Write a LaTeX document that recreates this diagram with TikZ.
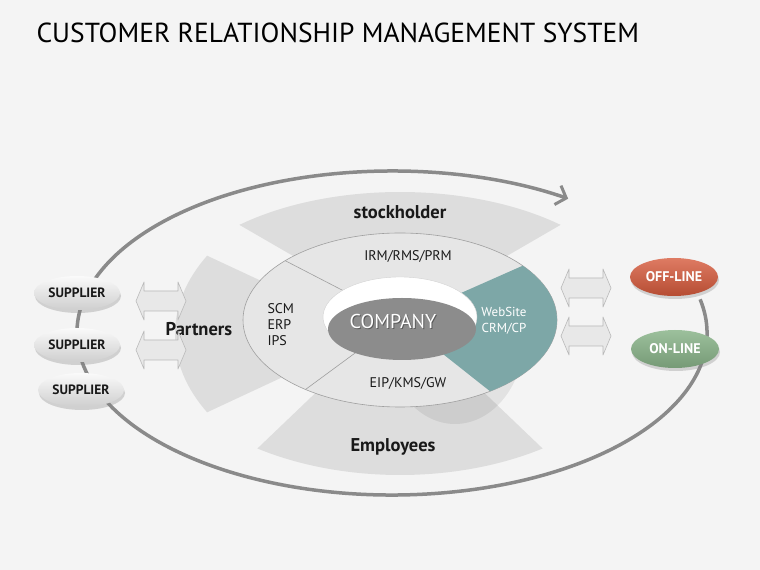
\documentclass[tikz,border=0pt]{standalone}
\usepackage{fontspec}
\setmainfont{PT Sans}
\usetikzlibrary{shapes.geometric,shadows,arrows.meta}

\definecolor{pagebg}{HTML}{F4F4F4}
\definecolor{bandgray}{HTML}{DDDDDD}
\definecolor{ringgray}{HTML}{E6E6E6}
\definecolor{crmteal}{HTML}{7DA7A7}
\definecolor{companygray}{HTML}{8C8C8C}
\definecolor{cyclegray}{HTML}{8A8A8A}
\definecolor{offred}{HTML}{D65A3C}
\definecolor{ongreen}{HTML}{8BB58B}

\tikzset{
    band/.style={fill=bandgray},
    ringline/.style={draw=gray!75, line width=0.6pt},
    bandlabel/.style={font=\bfseries\fontsize{18.5}{20}\selectfont, text=black!90},
    smalllabel/.style={font=\fontsize{14}{16}\selectfont, text=black!90},
    companytext/.style={font=\fontsize{20}{22}\selectfont, text=white},
    supplier/.style={ellipse, minimum width=86, minimum height=34, inner sep=0pt,
        top color=gray!4, bottom color=gray!38,
        drop shadow={shadow xshift=1pt, shadow yshift=-3pt, opacity=0.3},
        font=\bfseries\fontsize{13.5}{15}\selectfont, text=black!90},
    channel/.style={ellipse, minimum width=88, minimum height=38, inner sep=0pt,
        drop shadow={shadow xshift=1pt, shadow yshift=-3pt, opacity=0.3},
        font=\bfseries\fontsize{14}{16}\selectfont, text=white},
    blockarrow/.style={fill=gray!18, draw=gray!55, line width=0.6pt, line join=round},
}

\begin{document}
\begin{tikzpicture}[x=1pt, y=1pt]
    \useasboundingbox[fill=pagebg] (0,0) rectangle (760,570);

    % Title
    \node[anchor=base west, font=\fontsize{27.5}{30}\selectfont] (title) at (33,527)
        {CUSTOMER RELATIONSHIP MANAGEMENT SYSTEM};

    % Cycle round the whole system
    \coordinate (cyc) at (392,237);
    \draw[cyclegray, line width=3.5pt, -{Straight Barb[length=9pt, width=20pt, line width=3pt]}]
        (cyc) ++(12:315 and 162)
        arc[start angle=12, end angle=-304, x radius=315, y radius=162];

    % Bands behind the ring
    \coordinate (ringc) at (400,250);
    \begin{scope}[shift={(ringc)}]
        \fill[band] (132:100 and 55) -- (132:240 and 128)
            arc[start angle=132, end angle=48, x radius=240, y radius=128]
            -- (48:100 and 55) -- cycle;
        \fill[band] (-124:100 and 55) -- (-124:255 and 155)
            arc[start angle=-124, end angle=-56, x radius=255, y radius=155]
            -- (-56:100 and 55) -- cycle;
    \end{scope}
    \begin{scope}[shift={(400,236)}]
        \fill[band] (149:100 and 55) -- (149:225 and 152)
            arc[start angle=149, end angle=211, x radius=225, y radius=152]
            -- (211:100 and 55) -- cycle;
    \end{scope}

    % Shadow under the ring
    \fill[black, opacity=0.07] (455,236) ellipse[x radius=70, y radius=90];

    % Ring with its sectors
    \draw[ringline, fill=ringgray] (ringc) ellipse[x radius=157, y radius=87];
    \fill[crmteal] (ringc) -- ++(38.6:157 and 87)
        arc[start angle=38.6, end angle=-55, x radius=157, y radius=87] -- cycle;
    \draw[ringline] (ringc) -- ++(137:157 and 87);
    \draw[ringline] (ringc) -- ++(-127:157 and 87);

    % Company in the middle
    \fill[white, draw=gray!35] (400,253) ellipse[x radius=77, y radius=40];
    \node[ellipse, fill=companygray, minimum width=148, minimum height=62, inner sep=0pt] (company) at (402,241) {};
    \node[companytext, text=black, opacity=0.35] at ([shift={(-8,6)}]company.center) {COMPANY};
    \node[companytext] (companylabel) at ([shift={(-9,7)}]company.center) {COMPANY};

    % Labels
    \node[bandlabel] (stockholder) at (400,358) {stockholder};
    \node[bandlabel] (employees) at (393,123) {Employees};
    \node[bandlabel] (partners) at (199,241) {Partners};
    \node[smalllabel] (irm) at (408,313) {IRM/RMS/PRM};
    \node[smalllabel] (eip) at (408,187) {EIP/KMS/GW};
    \node[smalllabel, align=left, anchor=west] (scm) at (264,245) {SCM\\ERP\\IPS};
    \node[smalllabel, font=\fontsize{13}{16}\selectfont, align=center, text=white] (website) at (504,249) {WebSite\\CRM/CP};

    % Double block arrows
    \foreach \x/\y in {161/269, 161/220, 586/282, 586/234}
        \draw[blockarrow, shift={(\x,\y)}] (-25,0) -- (-17,19) -- (-17,10) -- (17,10)
            -- (17,19) -- (25,0) -- (17,-19) -- (17,-10) -- (-17,-10) -- (-17,-19) -- cycle;

    % Suppliers and channels
    \node[supplier] (sup1) at (77,277) {SUPPLIER};
    \node[supplier] (sup2) at (77,225) {SUPPLIER};
    \node[supplier] (sup3) at (81,180) {SUPPLIER};
    \node[channel, top color=offred!80!white, bottom color=offred!85!black] (offline) at (674,293) {OFF-LINE};
    \node[channel, top color=ongreen!85!white, bottom color=ongreen!85!black] (online) at (675,221) {ON-LINE};

\end{tikzpicture}
\end{document}
